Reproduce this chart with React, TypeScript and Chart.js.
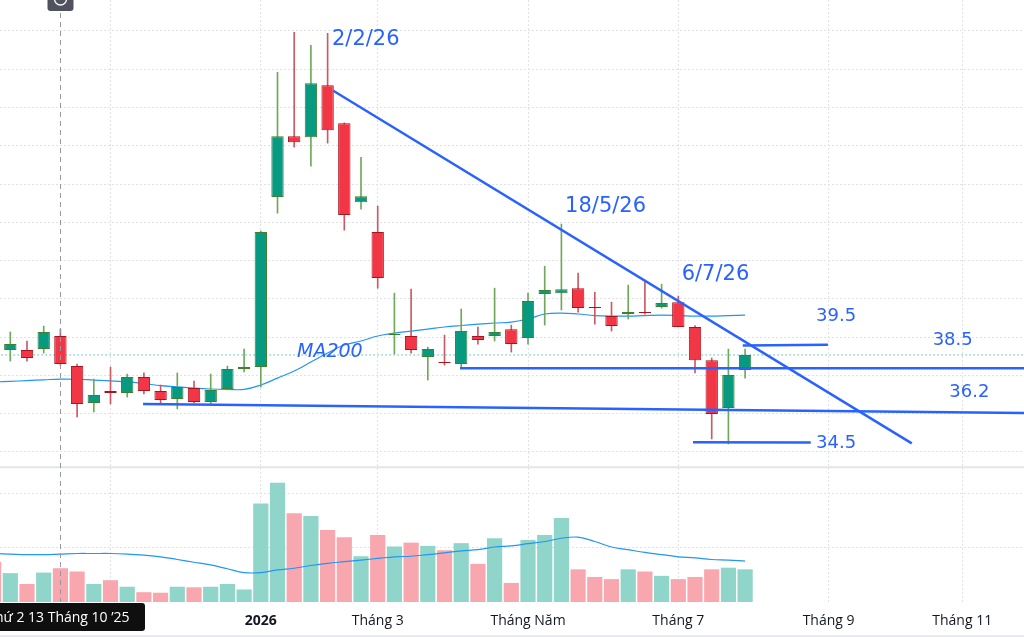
import { useEffect, useRef } from 'react';
import { Chart, registerables } from 'chart.js';

Chart.register(...registerables);

// Weekly bars (Monday of each week); first entry is only partially visible at the left edge
const weeks = [
  '15/9/25', '22/9/25', '29/9/25', '6/10/25', '13/10/25', '20/10/25', '27/10/25', '3/11/25',
  '10/11/25', '17/11/25', '24/11/25', '1/12/25', '8/12/25', '15/12/25', '22/12/25', '29/12/25',
  '5/1/26', '12/1/26', '19/1/26', '26/1/26', '2/2/26', '9/2/26', '23/2/26', '2/3/26',
  '9/3/26', '16/3/26', '23/3/26', '30/3/26', '6/4/26', '13/4/26', '20/4/26', '27/4/26',
  '4/5/26', '11/5/26', '18/5/26', '25/5/26', '1/6/26', '8/6/26', '15/6/26', '22/6/26',
  '29/6/26', '6/7/26', '13/7/26', '20/7/26', '27/7/26', '3/8/26',
];

const opens: (number | null)[] = [
  null, 39.33, 39.33, 39.38, 40.06, 38.49, 36.56, 37.19, 37.08, 37.92, 37.19, 36.77, 37.34, 36.61, 37.29, 38.33,
  38.44, 47.32, 50.5, 50.45, 53.16, 51.18, 47.05, 45.49, 40.11, 40.06, 38.96, 38.7, 38.6, 40.06, 40.06, 40.42,
  39.95, 42.25, 42.3, 42.56, 41.57, 41.1, 41.21, 41.31, 41.57, 41.83, 40.53, 38.8, 36.3, 38.28,
];
const highs: (number | null)[] = [
  null, 40.27, 39.8, 40.58, 40.42, 38.6, 37.81, 38.44, 38.07, 38.13, 37.5, 38.13, 37.71, 38.07, 38.49, 39.38,
  45.55, 53.84, 55.93, 55.25, 55.88, 51.2, 49.4, 46.85, 42.3, 42.51, 39.48, 40.11, 41.47, 40.53, 42.56, 40.63,
  42.3, 43.71, 45.91, 43.35, 42.35, 41.83, 42.72, 42.98, 42.77, 42.15, 40.6, 38.91, 39.38, 39.38,
];
const lows: (number | null)[] = [
  null, 38.75, 38.75, 39.17, 38.54, 35.83, 36.09, 36.51, 36.87, 37.03, 36.56, 36.25, 36.56, 36.45, 37.24, 38.18,
  37.39, 46.48, 49.93, 48.93, 50.14, 45.59, 46.69, 42.56, 39.12, 39.17, 37.76, 38.54, 38.44, 39.64, 39.8, 39.22,
  39.64, 40.63, 41.42, 41.31, 40.68, 40.32, 40.95, 41.2, 41.52, 40.53, 38.13, 34.68, 34.42, 37.86,
];
const closes: (number | null)[] = [
  null, 39.64, 38.91, 40.27, 38.6, 36.51, 36.98, 37.08, 37.92, 37.19, 36.72, 37.39, 36.61, 37.24, 38.33, 38.44,
  45.49, 50.5, 50.19, 53.27, 50.81, 46.38, 47.37, 43.09, 40.16, 39.33, 39.38, 38.65, 40.32, 39.85, 40.27, 39.64,
  41.89, 42.46, 42.51, 41.52, 41.52, 40.58, 41.31, 41.26, 41.78, 40.53, 38.8, 35.98, 38.02, 39.07,
];
const ma200 = [
  37.66, 37.69, 37.73, 37.77, 37.81, 37.8, 37.76, 37.72, 37.66, 37.58, 37.47, 37.41, 37.34, 37.29, 37.27, 37.27,
  37.5, 37.86, 38.23, 38.7, 39.17, 39.59, 39.8, 40.06, 40.21, 40.32, 40.42, 40.53, 40.61, 40.68, 40.74, 40.79,
  40.95, 41.21, 41.26, 41.21, 41.13, 41.1, 41.1, 41.13, 41.15, 41.13, 41.1, 41.1, 41.13, 41.15,
];
// Volume, millions of shares
const volumes = [
  0.74, 0.53, 0.33, 0.54, 0.62, 0.56, 0.33, 0.4, 0.28, 0.18, 0.17, 0.28, 0.27, 0.28, 0.33, 0.23,
  1.81, 2.19, 1.63, 1.58, 1.32, 1.19, 0.84, 1.23, 1.02, 1.09, 1.03, 0.95, 1.08, 0.7, 1.17, 0.35,
  1.14, 1.23, 1.54, 0.6, 0.46, 0.42, 0.6, 0.56, 0.48, 0.42, 0.46, 0.6, 0.63, 0.6,
];
const volumeMa = [
  0.89, 0.88, 0.87, 0.87, 0.88, 0.89, 0.89, 0.89, 0.88, 0.86, 0.83, 0.78, 0.73, 0.68, 0.61, 0.54,
  0.54, 0.59, 0.62, 0.67, 0.71, 0.74, 0.77, 0.8, 0.83, 0.84, 0.87, 0.9, 0.94, 0.96, 1.01, 1.03,
  1.07, 1.11, 1.17, 1.19, 1.11, 1.01, 0.96, 0.91, 0.87, 0.83, 0.81, 0.78, 0.77, 0.75,
];

// Time axis (bar index of the first weekly bar of each month)
const tickBars = [6, 15, 22, 31, 40, 49, 57];
const tickLabels = ['Tháng 11', '2026', 'Tháng 3', 'Tháng Năm', 'Tháng 7', 'Tháng 9', 'Tháng 11'];
const priceTicks = [34, 36, 38, 40, 42, 44, 46, 48, 50, 52, 54, 56];
const volumeTicks = [1, 2];

// Drawn trend / level lines: [barIndex, price] pairs
const downTrend = [[19.34, 52.88], [53.98, 34.45]];
const level385 = [[26.93, 38.37], [61, 38.37]];
const level362 = [[7.95, 36.51], [61, 36.04]];
const level395 = [[43.86, 39.57], [48.96, 39.6]];
const level345 = [[40.88, 34.51], [47.93, 34.49]];

// Text notes: [text, barIndex, price]
const notes: [string, number, number][] = [
  ['2/2/26', 19.26, 55.57],
  ['18/5/26', 33.22, 46.8],
  ['6/7/26', 40.2, 43.29],
  ['39.5', 48.25, 41.07],
  ['38.5', 55.23, 39.84],
  ['36.2', 56.23, 37.12],
  ['34.5', 48.25, 34.46],
  ['MA200', 17.17, 39.22],
];
const crosshairBar = 3;
const crosshairLabel = 'Thứ 2 13 Tháng 10 ’25';

const FONT = "'DejaVu Sans', sans-serif";
const AXIS_FONT = "'Open Sans', sans-serif";
const BLUE = '#2962FF';

export default function App() {
  const ref = useRef<HTMLCanvasElement>(null);

  useEffect(() => {
    if (!ref.current) return;
    const xs = weeks.map((_, k) => k - 1);
    const isUp = (k: number) => opens[k] != null && (closes[k] as number) >= (opens[k] as number);
    const candleK = xs.map((_, k) => k).filter((k) => opens[k] != null);

    const bodies = candleK.map((k) => ({ x: xs[k], y: [opens[k] as number, closes[k] as number] }));
    const wicks = candleK.map((k) => ({ x: xs[k], y: [lows[k] as number, highs[k] as number] }));
    const bodyFill = candleK.map((k) => (isUp(k) ? '#089981' : '#F23645'));
    const bodyBorder = candleK.map((k) => (isUp(k) ? '#3f7f2f' : '#a8141f'));
    const wickColor = candleK.map((k) => (isUp(k) ? '#6fa85a' : '#c95a66'));
    const vols = xs.map((x, k) => ({ x, y: volumes[k] }));
    const volColor = xs.map((_, k) => (isUp(k) ? '#8fd5c9' : '#f9a7ae'));
    const lastClose = closes[closes.length - 1] as number;

    const line = (pts: number[][], width: number) => ({
      type: 'line' as const,
      data: pts.map(([x, y]) => ({ x, y })),
      borderColor: BLUE,
      borderWidth: width,
      pointRadius: 0,
      yAxisID: 'y',
      order: 1,
    });

    const overlay = {
      id: 'overlay',
      afterDatasetsDraw(chart: any) {
        const { ctx, chartArea } = chart;
        const x = chart.scales.x;
        const y = chart.scales.y;
        ctx.save();
        // pane separator between price and volume
        const sep = y.getPixelForValue(33.2);
        ctx.strokeStyle = '#e3e5ea';
        ctx.lineWidth = 2;
        ctx.beginPath();
        ctx.moveTo(chartArea.left, sep);
        ctx.lineTo(chartArea.right, sep);
        ctx.stroke();
        // notes
        ctx.fillStyle = BLUE;
        ctx.textBaseline = 'middle';
        ctx.textAlign = 'left';
        notes.forEach(([t, bx, p]) => {
          if (t === 'MA200') ctx.font = `italic 19px ${FONT}`;
          else if (t.includes('/')) ctx.font = `21px ${FONT}`;
          else ctx.font = `18px ${FONT}`;
          ctx.fillText(t, x.getPixelForValue(bx), y.getPixelForValue(p));
        });
        // crosshair
        const cx = Math.round(x.getPixelForValue(crosshairBar)) + 0.5;
        ctx.strokeStyle = '#9598a1';
        ctx.lineWidth = 1;
        ctx.setLineDash([5, 4]);
        ctx.beginPath();
        ctx.moveTo(cx, chartArea.top + 13);
        ctx.lineTo(cx, chartArea.bottom);
        ctx.stroke();
        ctx.setLineDash([]);
        // small marker at top of crosshair
        ctx.fillStyle = '#50535e';
        ctx.beginPath();
        ctx.roundRect(cx - 13, chartArea.top - 6, 26, 17, 3);
        ctx.fill();
        ctx.strokeStyle = '#ffffff';
        ctx.lineWidth = 1.3;
        ctx.beginPath();
        ctx.arc(cx, chartArea.top - 1, 6, 0, Math.PI * 2);
        ctx.stroke();
        ctx.restore();
      },
      afterDraw(chart: any) {
        const { ctx, chartArea } = chart;
        const x = chart.scales.x;
        ctx.save();
        const cx = x.getPixelForValue(crosshairBar);
        const b = chartArea.bottom;
        ctx.fillStyle = '#0f0f10';
        ctx.beginPath();
        ctx.roundRect(cx - 80, b + 1, 145 - (cx - 80), 28, 3);
        ctx.fill();
        ctx.fillStyle = '#ffffff';
        ctx.font = `14px ${AXIS_FONT}`;
        ctx.textAlign = 'center';
        ctx.textBaseline = 'middle';
        ctx.fillText(crosshairLabel, cx - 2, b + 16.5);
        // bottom border
        ctx.strokeStyle = '#e3e5ea';
        ctx.lineWidth = 1.5;
        ctx.beginPath();
        ctx.moveTo(0, chart.height - 1);
        ctx.lineTo(chart.width, chart.height - 1);
        ctx.stroke();
        ctx.restore();
      },
    };

    const chart = new Chart(ref.current, {
      type: 'bar',
      data: {
        datasets: [
          {
            type: 'bar',
            data: vols as any,
            backgroundColor: volColor,
            borderWidth: 0,
            categoryPercentage: 1,
            barPercentage: 0.91,
            grouped: false,
            yAxisID: 'yV',
            order: 10,
          },
          {
            type: 'line',
            data: xs.map((x, k) => ({ x, y: volumeMa[k] })) as any,
            borderColor: '#2196F3',
            borderWidth: 1.2,
            pointRadius: 0,
            tension: 0.4,
            yAxisID: 'yV',
            order: 9,
          },
          {
            type: 'line',
            data: xs.map((x, k) => ({ x, y: ma200[k] })) as any,
            borderColor: '#2196F3',
            borderWidth: 1.2,
            pointRadius: 0,
            tension: 0.4,
            yAxisID: 'y',
            order: 8,
          },
          {
            type: 'line',
            data: [{ x: -1, y: lastClose }, { x: 61, y: lastClose }] as any,
            borderColor: '#089981',
            borderWidth: 1,
            borderDash: [1, 3],
            pointRadius: 0,
            yAxisID: 'y',
            order: 7,
          },
          {
            type: 'bar',
            data: wicks as any,
            backgroundColor: wickColor,
            borderWidth: 0,
            barThickness: 1,
            grouped: false,
            yAxisID: 'y',
            order: 5,
          },
          {
            type: 'bar',
            data: bodies as any,
            backgroundColor: bodyFill,
            borderColor: bodyBorder,
            borderWidth: 1,
            borderSkipped: false,
            categoryPercentage: 1,
            barPercentage: 0.74,
            grouped: false,
            yAxisID: 'y',
            order: 4,
          },
          line(downTrend, 2.5) as any,
          line(level385, 2.5) as any,
          line(level362, 2.5) as any,
          line(level395, 2.5) as any,
          line(level345, 2.5) as any,
        ],
      },
      options: {
        responsive: false,
        animation: false,
        layout: { padding: 0 },
        plugins: { legend: { display: false }, tooltip: { enabled: false } },
        scales: {
          x: {
            type: 'linear',
            offset: false,
            min: -0.617,
            max: 60.7,
            afterBuildTicks: (s: any) => {
              s.ticks = tickBars.map((v) => ({ value: v }));
            },
            afterFit: (s: any) => {
              s.height = 35;
            },
            ticks: {
              autoSkip: false,
              maxRotation: 0,
              padding: 11,
              color: '#131722',
              font: (c: any) => ({
                family: AXIS_FONT,
                size: 14,
                weight: tickLabels[tickBars.indexOf(c.tick?.value)] === '2026' ? 'bold' : 'normal',
              }),
              callback: (v: any) => tickLabels[tickBars.indexOf(v)] ?? '',
            },
            grid: { color: '#dfe2e8', drawTicks: false, lineWidth: 1, offset: false },
            border: { display: false, dash: [2, 2] },
          },
          y: {
            type: 'linear',
            position: 'right',
            min: 26.16,
            max: 57.62,
            afterBuildTicks: (s: any) => {
              s.ticks = priceTicks.map((v) => ({ value: v }));
            },
            afterFit: (s: any) => {
              s.width = 0;
            },
            ticks: { display: false },
            grid: { color: '#dfe2e8', drawTicks: false, lineWidth: 1 },
            border: { display: false, dash: [2, 2] },
          },
          yV: {
            type: 'linear',
            position: 'right',
            min: 0,
            max: 11.05,
            afterBuildTicks: (s: any) => {
              s.ticks = volumeTicks.map((v) => ({ value: v }));
            },
            afterFit: (s: any) => {
              s.width = 0;
            },
            ticks: { display: false },
            grid: { color: '#dfe2e8', drawTicks: false, lineWidth: 1 },
            border: { display: false, dash: [2, 2] },
          },
        },
      },
      plugins: [overlay],
    } as any);

    return () => chart.destroy();
  }, []);

  return (
    <div style={{ position: 'fixed', left: 0, top: 0, width: 1024, height: 637, background: '#ffffff' }}>
      <canvas ref={ref} width={1024} height={637} style={{ display: 'block' }} />
    </div>
  );
}
